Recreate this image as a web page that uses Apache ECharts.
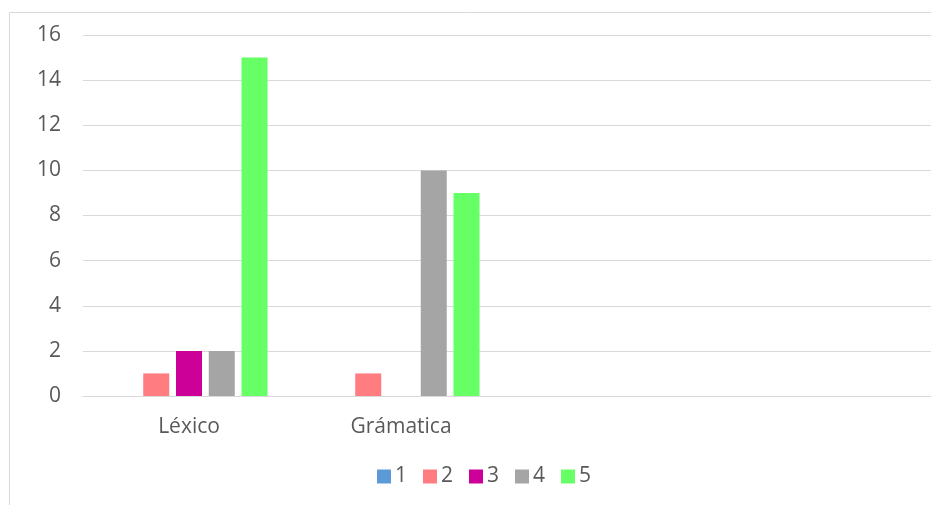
<!DOCTYPE html>
<html>
<head>
<meta charset="utf-8">
<script src="https://cdn.jsdelivr.net/npm/echarts@6/dist/echarts.min.js"></script>
<style>
  html, body { margin: 0; padding: 0; background: #fff; }
  #chart { width: 931px; height: 505px; }
</style>
</head>
<body>
<div id="chart"></div>
<script>
// Categories (two trailing empty slots keep the plot's spacing)
const categories = ['Léxico', 'Grámatica', '', ''];
const seriesNames = ['1', '2', '3', '4', '5'];
const values1 = [0, 0, null, null];
const values2 = [1, 1, null, null];
const values3 = [2, 0, null, null];
const values4 = [2, 10, null, null];
const values5 = [15, 9, null, null];
const yTicks = [0, 2, 4, 6, 8, 10, 12, 14, 16];

const colors = ['#5b9bd5', '#ff7c80', '#cc0099', '#a5a5a5', '#66ff66'];
const seriesValues = [values1, values2, values3, values4, values5];
const font = 'Open Sans';

const chart = echarts.init(document.getElementById('chart'), null, { renderer: 'canvas' });
chart.setOption({
  animation: false,
  backgroundColor: '#fff',
  textStyle: { fontFamily: font },
  graphic: [{
    type: 'rect',
    shape: { x: 9.5, y: 12.5, width: 940, height: 520 },
    style: { fill: 'none', stroke: '#d9d9d9', lineWidth: 1 },
    silent: true,
    z: -1
  }],
  grid: { left: 83, right: -4, top: 35, bottom: 109, containLabel: false },
  legend: {
    data: seriesNames,
    top: 461,
    left: 372,
    itemWidth: 14,
    itemHeight: 14,
    itemGap: 16,
    icon: 'rect',
    textStyle: { color: '#595959', fontSize: 21, fontFamily: font, padding: [0, 0, 0, -1] }
  },
  xAxis: {
    type: 'category',
    data: categories,
    axisLine: { lineStyle: { color: '#d9d9d9', width: 1 } },
    axisTick: { show: false },
    axisLabel: { color: '#595959', fontSize: 21, margin: 21, fontFamily: font }
  },
  yAxis: {
    type: 'value',
    min: yTicks[0],
    max: yTicks[yTicks.length - 1],
    interval: 2,
    axisLine: { show: false },
    axisTick: { show: false },
    axisLabel: { color: '#595959', fontSize: 21, margin: 22, fontFamily: font },
    splitLine: { lineStyle: { color: '#d9d9d9', width: 1 } }
  },
  series: seriesNames.map((name, i) => ({
    name: name,
    type: 'bar',
    data: seriesValues[i],
    barWidth: 26,
    barGap: '26%',
    itemStyle: { color: colors[i] }
  }))
});
</script>
</body>
</html>
